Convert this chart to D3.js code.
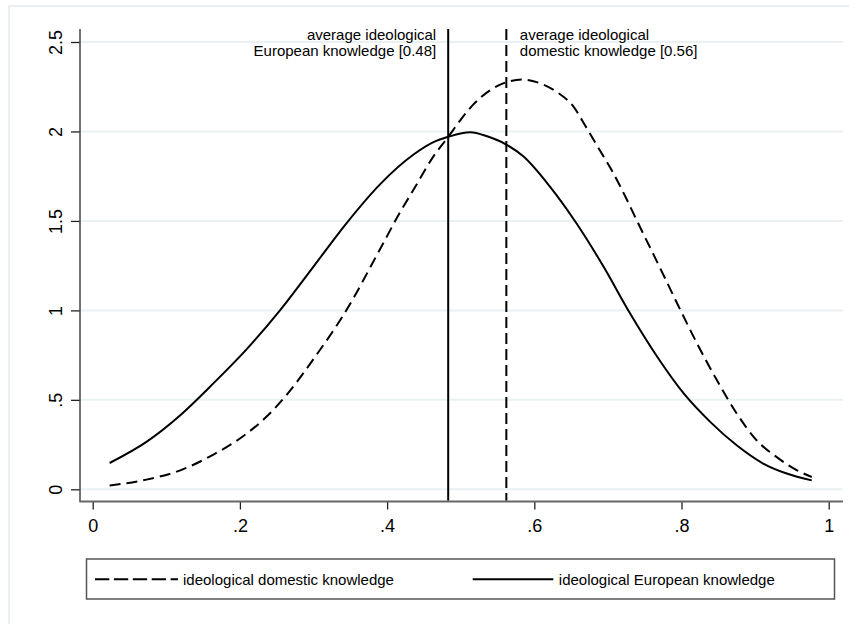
<!DOCTYPE html>
<html><head><meta charset="utf-8">
<script src="https://cdn.jsdelivr.net/npm/d3@7"></script>
<style>
html,body{margin:0;padding:0;background:#fff;}
svg{display:block;font-family:"Liberation Sans",Arial,Helvetica,sans-serif;}
</style></head>
<body>
<svg id="chart" width="849" height="624"></svg>
<script>
// ---- data ----
const domesticX = [0.023,0.073,0.119,0.164,0.200,0.236,0.264,0.300,0.345,0.390,0.417,0.436,0.463,0.483,0.499,0.517,0.540,0.562,0.585,0.608,0.631,0.653,0.671,0.689,0.707,0.725,0.739,0.767,0.794,0.821,0.848,0.875,0.902,0.929,0.957,0.977];
const domesticY = [0.021,0.054,0.106,0.194,0.284,0.405,0.530,0.728,1.003,1.339,1.544,1.675,1.861,1.970,2.060,2.150,2.230,2.275,2.290,2.269,2.220,2.140,2.020,1.895,1.770,1.625,1.505,1.270,1.040,0.816,0.611,0.424,0.274,0.181,0.106,0.069];
const europeanX = [0.023,0.073,0.119,0.164,0.209,0.255,0.300,0.345,0.390,0.436,0.463,0.483,0.513,0.536,0.562,0.585,0.621,0.657,0.694,0.730,0.767,0.803,0.839,0.875,0.911,0.943,0.977];
const europeanY = [0.147,0.265,0.414,0.592,0.782,1.003,1.245,1.488,1.703,1.871,1.940,1.970,1.996,1.973,1.927,1.861,1.693,1.488,1.245,0.984,0.741,0.536,0.377,0.246,0.144,0.088,0.050];
const meanEuropean = 0.483, meanDomestic = 0.562;
const xTicks = [0, 0.2, 0.4, 0.6, 0.8, 1];
const xTickLabels = ["0", ".2", ".4", ".6", ".8", "1"];
const yTicks = [0, 0.5, 1, 1.5, 2, 2.5];
const yTickLabels = ["0", ".5", "1", "1.5", "2", "2.5"];
const annotEuropean = ["average ideological", "European knowledge [0.48]"];
const annotDomestic = ["average ideological", "domestic knowledge [0.56]"];
const legendLabels = ["ideological domestic knowledge", "ideological European knowledge"];

// ---- layout ----
const svg = d3.select("#chart");
const plotLeft = 80, plotRight = 843, plotTop = 29, axisY = 501.5;
const x = d3.scaleLinear().domain([0, 1]).range([92.7, 828.7]);
const y = d3.scaleLinear().domain([0, 2.5]).range([489.3, 42]);

// outer light frame
svg.append("rect").attr("x", 9).attr("y", 6).attr("width", 900).attr("height", 700)
  .attr("fill", "none").attr("stroke", "#e9f0f2").attr("stroke-width", 2);

// gridlines
svg.append("g").selectAll("line").data(yTicks).join("line")
  .attr("x1", plotLeft).attr("x2", plotRight)
  .attr("y1", d => y(d)).attr("y2", d => y(d))
  .attr("stroke", "#eaf1f3").attr("stroke-width", 2);

// y axis
const yAxis = d3.axisLeft(y).tickValues(yTicks).tickFormat((d, i) => yTickLabels[i]).tickSize(9).tickPadding(9);
const gy = svg.append("g").attr("transform", `translate(${plotLeft},0)`).call(yAxis);
gy.select(".domain").remove();
gy.selectAll(".tick line").attr("stroke", "#222").attr("stroke-width", 1.3);
gy.selectAll(".tick text").attr("font-size", 18).attr("fill", "#000")
  .attr("font-family", '"Liberation Sans",Arial,sans-serif')
  .attr("text-anchor", "middle").attr("dy", null)
  .attr("transform", `translate(-18.5,0) rotate(-90)`).attr("x", 0).attr("y", 0);
svg.append("line").attr("x1", plotLeft).attr("x2", plotLeft).attr("y1", plotTop).attr("y2", axisY)
  .attr("stroke", "#444").attr("stroke-width", 1.5);

// x axis
const xAxis = d3.axisBottom(x).tickValues(xTicks).tickFormat((d, i) => xTickLabels[i]).tickSize(8).tickPadding(10);
const gx = svg.append("g").attr("transform", `translate(0,${axisY})`).call(xAxis);
gx.select(".domain").remove();
gx.selectAll(".tick line").attr("stroke", "#222").attr("stroke-width", 1.3);
gx.selectAll(".tick text").attr("font-size", 18).attr("fill", "#000")
  .attr("font-family", '"Liberation Sans",Arial,sans-serif');
svg.append("line").attr("x1", plotLeft - 0.7).attr("x2", plotRight).attr("y1", axisY).attr("y2", axisY)
  .attr("stroke", "#666").attr("stroke-width", 2);

// curves
const line = d3.line().x(d => x(d[0])).y(d => y(d[1])).curve(d3.curveMonotoneX);
const domestic = domesticX.map((v, i) => [v, domesticY[i]]);
const european = europeanX.map((v, i) => [v, europeanY[i]]);
svg.append("path").datum(domestic).attr("d", line).attr("fill", "none")
  .attr("stroke", "#000").attr("stroke-width", 2).attr("stroke-dasharray", "11,6");
svg.append("path").datum(european).attr("d", line).attr("fill", "none")
  .attr("stroke", "#000").attr("stroke-width", 2);

// vertical mean lines
svg.append("line").attr("x1", x(meanEuropean)).attr("x2", x(meanEuropean))
  .attr("y1", plotTop).attr("y2", axisY - 1).attr("stroke", "#000").attr("stroke-width", 2);
svg.append("line").attr("x1", x(meanDomestic)).attr("x2", x(meanDomestic))
  .attr("y1", plotTop).attr("y2", axisY - 1).attr("stroke", "#000").attr("stroke-width", 2)
  .attr("stroke-dasharray", "11,5");

// annotations
const annE = svg.append("text").attr("font-size", 15).attr("text-anchor", "end").attr("fill", "#000");
annotEuropean.forEach((t, i) => annE.append("tspan").attr("x", x(meanEuropean) - 12).attr("y", 40 + i * 16).text(t));
const annD = svg.append("text").attr("font-size", 15).attr("text-anchor", "start").attr("fill", "#000");
annotDomestic.forEach((t, i) => annD.append("tspan").attr("x", x(meanDomestic) + 13.5).attr("y", 40 + i * 16).text(t));

// legend
const lg = svg.append("g");
lg.append("rect").attr("x", 86.5).attr("y", 559).attr("width", 748).attr("height", 40)
  .attr("fill", "#fff").attr("stroke", "#555").attr("stroke-width", 1.5);
lg.append("line").attr("x1", 95).attr("x2", 178).attr("y1", 579.3).attr("y2", 579.3)
  .attr("stroke", "#000").attr("stroke-width", 2).attr("stroke-dasharray", "14.3,4.6");
lg.append("text").attr("x", 183).attr("y", 585).attr("font-size", 15).text(legendLabels[0]);
lg.append("line").attr("x1", 472.7).attr("x2", 553.3).attr("y1", 579.3).attr("y2", 579.3)
  .attr("stroke", "#000").attr("stroke-width", 2);
lg.append("text").attr("x", 558.8).attr("y", 585).attr("font-size", 15).text(legendLabels[1]);
</script>
</body></html>
